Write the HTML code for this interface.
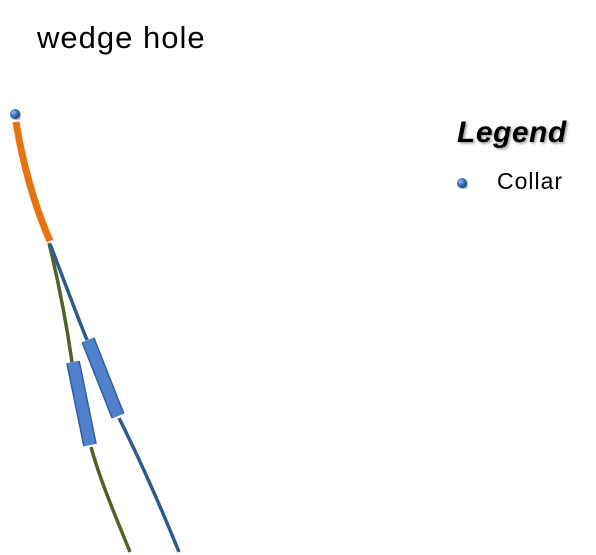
<!DOCTYPE html>
<html><head><meta charset="utf-8"><style>
html,body{margin:0;padding:0;background:#fff;width:596px;height:555px;overflow:hidden}
svg{display:block}
text{font-family:"Liberation Sans",sans-serif}
</style></head><body>
<svg id="c" width="596" height="555" viewBox="0 0 596 555">
<defs>
<radialGradient id="ball" cx="0.35" cy="0.35" r="0.7">
<stop offset="0" stop-color="#9cc3f0"/><stop offset="0.5" stop-color="#3a6fc0"/><stop offset="1" stop-color="#1d3f7a"/></radialGradient>
<filter id="sh"><feDropShadow dx="1.5" dy="1.5" stdDeviation="1.2" flood-opacity="0.4"/></filter>
</defs>
<text x="37" y="48" font-size="31" letter-spacing="1" fill="#000">wedge hole</text>
<path d="M16,122 C22,160 34,205 50,241" fill="none" stroke="#e8740f" stroke-width="7"/>
<path d="M49,243 C58,280 66,320 72,362 M91,447 C100,480 115,515 130,552" fill="none" stroke="#4f6228" stroke-width="3.5"/>
<path d="M50,244 C62,275 74,308 87,340 M119,418 C140,460 160,505 179,552" fill="none" stroke="#2e5a8e" stroke-width="3.5"/>
<line x1="73" y1="362" x2="90" y2="445" stroke="#2f5f9e" stroke-width="14"/>
<line x1="73" y1="362" x2="90" y2="445" stroke="#4f81cd" stroke-width="11"/>
<line x1="88" y1="340" x2="118" y2="416" stroke="#2f5f9e" stroke-width="14"/>
<line x1="88" y1="340" x2="118" y2="416" stroke="#4f81cd" stroke-width="11"/>
<circle cx="15" cy="114" r="5" fill="url(#ball)" filter="url(#sh)"/>
<text x="457" y="142" font-size="30" font-weight="bold" font-style="italic" letter-spacing="0.5" fill="#000" filter="url(#sh)">Legend</text>
<circle cx="462" cy="183" r="5" fill="url(#ball)" filter="url(#sh)"/>
<text x="497" y="189" font-size="23" letter-spacing="1" fill="#000">Collar</text>
</svg>
</body></html>
